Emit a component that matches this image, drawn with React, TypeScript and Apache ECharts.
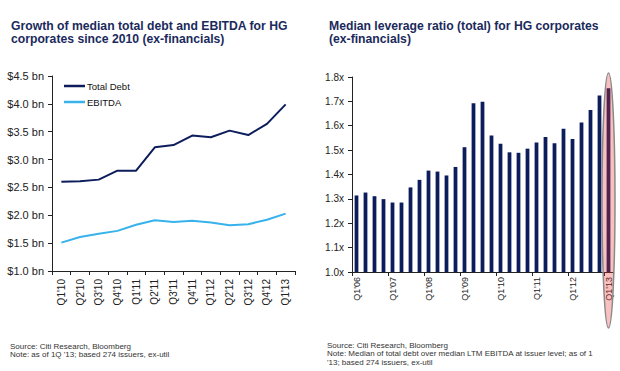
import React, { useEffect, useRef } from 'react';
import * as echarts from 'echarts';

const leftCategories = ["Q1'10", "Q2'10", "Q3'10", "Q4'10", "Q1'11", "Q2'11", "Q3'11", "Q4'11", "Q1'12", "Q2'12", "Q3'12", "Q4'12", "Q1'13"];
const totalDebt = [2.6, 2.61, 2.64, 2.8, 2.8, 3.22, 3.26, 3.43, 3.4, 3.52, 3.44, 3.64, 3.99];
const ebitda = [1.51, 1.61, 1.67, 1.72, 1.83, 1.91, 1.88, 1.9, 1.87, 1.82, 1.84, 1.92, 2.03];

const rightCategories = [
  "Q1'06", "Q2'06", "Q3'06", "Q4'06",
  "Q1'07", "Q2'07", "Q3'07", "Q4'07",
  "Q1'08", "Q2'08", "Q3'08", "Q4'08",
  "Q1'09", "Q2'09", "Q3'09", "Q4'09",
  "Q1'10", "Q2'10", "Q3'10", "Q4'10",
  "Q1'11", "Q2'11", "Q3'11", "Q4'11",
  "Q1'12", "Q2'12", "Q3'12", "Q4'12",
  "Q1'13",
];
const leverage = [
  1.314, 1.326, 1.311, 1.299,
  1.285, 1.285, 1.347, 1.378,
  1.416, 1.412, 1.396, 1.431,
  1.512, 1.692, 1.698, 1.56,
  1.526, 1.491, 1.489, 1.506,
  1.531, 1.554, 1.528, 1.588,
  1.546, 1.613, 1.665, 1.724,
  1.754,
];

const leftTitle = 'Growth of median total debt and EBITDA for HG\ncorporates since 2010 (ex-financials)';
const rightTitle = 'Median leverage ratio (total) for HG corporates\n(ex-financials)';
const leftNote = 'Source: Citi Research, Bloomberg\nNote: as of 1Q \'13; based 274 issuers, ex-util';
const rightNote = "Source: Citi Research, Bloomberg\nNote: Median of total debt over median LTM EBITDA at issuer level; as of 1\n'13; based 274 issuers, ex-util";

const FONT = 'Arial, "Liberation Sans", sans-serif';
const NAVY = '#0d1d5c';
const LIGHT = '#38b2ea';
const TITLE_COLOR = '#1a2a5c';
const AXIS = '#222';

export default function App() {
  const ref = useRef<HTMLDivElement>(null);
  useEffect(() => {
    if (!ref.current) return;
    const chart = echarts.init(ref.current, null, { renderer: 'svg' });
    const axisLine = { show: true, lineStyle: { color: AXIS, width: 1 } };
    const axisTick = { show: true, length: 4, lineStyle: { color: AXIS } };
    const notes = [
      {
        type: 'text', left: 10, top: 342,
        style: { text: leftNote, font: '8px ' + FONT, fill: '#333', lineHeight: 8.5 },
      },
      {
        type: 'text', left: 327, top: 341,
        style: { text: rightNote, font: '8px ' + FONT, fill: '#333', lineHeight: 8.5 },
      },
    ];
    chart.setOption({
      animation: false,
      textStyle: { fontFamily: FONT },
      title: [
        {
          text: leftTitle, left: 6, top: 14,
          textStyle: { fontFamily: FONT, fontSize: 12.2, fontWeight: 'bold', color: TITLE_COLOR, lineHeight: 13 },
        },
        {
          text: rightTitle, left: 324, top: 14,
          textStyle: { fontFamily: FONT, fontSize: 12.2, fontWeight: 'bold', color: TITLE_COLOR, lineHeight: 13 },
        },
      ],
      legend: {
        data: ['Total Debt', 'EBITDA'],
        orient: 'vertical',
        left: 59, top: 76,
        icon: 'rect',
        itemWidth: 21, itemHeight: 2.5,
        itemGap: 6,
        textStyle: { fontFamily: FONT, fontSize: 9.5, color: '#111', padding: [0, 0, 0, -3] },
      },
      grid: [
        { left: 52, top: 76, width: 243, height: 195 },
        { left: 352, top: 77, width: 261, height: 195 },
      ],
      xAxis: [
        {
          type: 'category', gridIndex: 0, data: leftCategories, boundaryGap: true,
          axisLine, axisTick,
          axisLabel: { rotate: 90, interval: 0, margin: 8, fontSize: 10, color: '#222', fontFamily: FONT },
        },
        {
          type: 'category', gridIndex: 1, data: rightCategories, boundaryGap: true,
          axisLine, axisTick: { ...axisTick, interval: 3 },
          axisLabel: { rotate: 90, interval: 3, margin: 5, fontSize: 9, color: '#222', fontFamily: FONT },
        },
      ],
      yAxis: [
        {
          type: 'value', gridIndex: 0, min: 1.0, max: 4.5, interval: 0.5,
          axisLine, axisTick, splitLine: { show: false },
          axisLabel: {
            margin: 8, fontSize: 11, color: '#222', fontFamily: FONT,
            formatter: (v: number) => '$' + v.toFixed(1) + ' bn',
          },
        },
        {
          type: 'value', gridIndex: 1, min: 1.0, max: 1.8, interval: 0.1,
          axisLine, axisTick, splitLine: { show: false },
          axisLabel: {
            margin: 8, fontSize: 10, color: '#222', fontFamily: FONT,
            formatter: (v: number) => v.toFixed(1) + 'x',
          },
        },
      ],
      series: [
        {
          name: 'Total Debt', type: 'line', xAxisIndex: 0, yAxisIndex: 0, data: totalDebt,
          showSymbol: false, symbol: 'none', lineStyle: { color: NAVY, width: 2 }, itemStyle: { color: NAVY },
        },
        {
          name: 'EBITDA', type: 'line', xAxisIndex: 0, yAxisIndex: 0, data: ebitda,
          showSymbol: false, symbol: 'none', lineStyle: { color: LIGHT, width: 2 }, itemStyle: { color: LIGHT },
        },
        {
          name: 'Leverage', type: 'bar', xAxisIndex: 1, yAxisIndex: 1, data: leverage,
          barWidth: '42%', itemStyle: { color: NAVY },
        },
      ],
      graphic: notes,
    });
    const lastCat = rightCategories[rightCategories.length - 1];
    const cx = chart.convertToPixel({ xAxisIndex: 1 }, lastCat) as number;
    const yTop = chart.convertToPixel({ yAxisIndex: 1 }, 1.8) as number;
    const yBase = chart.convertToPixel({ yAxisIndex: 1 }, 1.0) as number;
    const top = yTop - 4;
    const bottom = yBase + 56;
    chart.setOption({
      graphic: [
        ...notes,
        {
          type: 'ellipse', z: 100,
          shape: { cx, cy: (top + bottom) / 2, rx: 6.5, ry: (bottom - top) / 2 },
          style: { fill: 'rgba(235,45,45,0.3)', stroke: '#8a8a8a', lineWidth: 1.5 },
        },
      ],
    });
    return () => chart.dispose();
  }, []);
  return <div ref={ref} style={{ position: 'fixed', left: 0, top: 0, width: 620, height: 371, background: '#fff' }} />;
}
